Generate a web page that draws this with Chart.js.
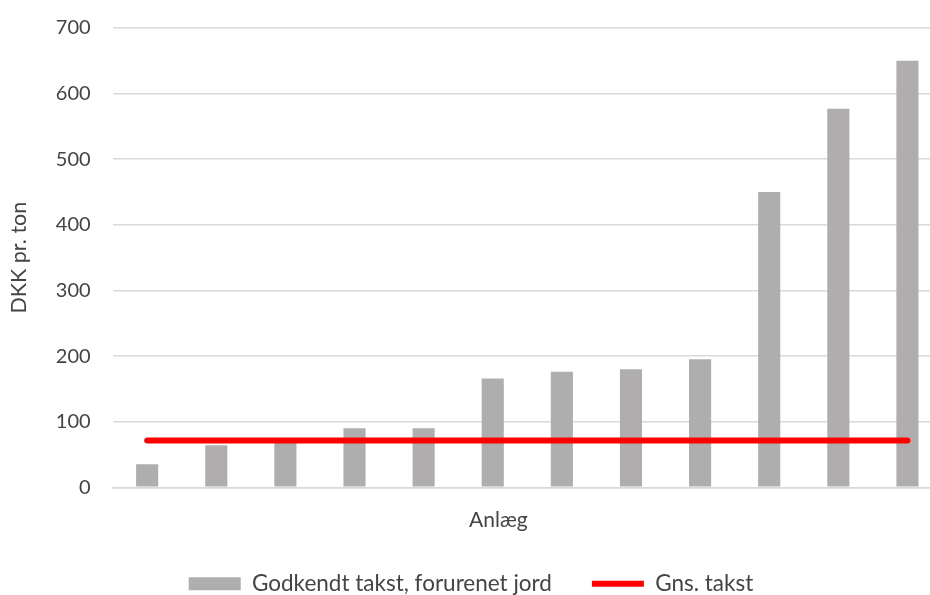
<!DOCTYPE html>
<html lang="da">
<head>
    <meta charset="UTF-8">
    <title>Godkendt takst, forurenet jord</title>
    <script src="https://cdn.jsdelivr.net/npm/chart.js"></script>
    <style>
        html, body {
            margin: 0;
            padding: 0;
            background: #ffffff;
            overflow: hidden;
        }
        /* a bit larger than the window, edges get cut off like in the original */
        .chart-box {
            width: 944px;
            height: 611px;
            margin-top: -6px;
        }
    </style>
</head>
<body>
    <div class="chart-box">
        <canvas id="taktChart"></canvas>
    </div>

    <script>
        // Anlæg (no names shown on the axis)
        const anlaeg = ['1', '2', '3', '4', '5', '6', '7', '8', '9', '10', '11', '12'];
        const godkendtTakst = [35, 64, 73, 90, 90, 166, 176, 180, 195, 450, 577, 650];
        const gnsTakst = [71.5, 71.5, 71.5, 71.5, 71.5, 71.5, 71.5, 71.5, 71.5, 71.5, 71.5, 71.5];
        const yTicks = [0, 100, 200, 300, 400, 500, 600, 700];

        const fontFam = 'Lato, "Open Sans", sans-serif';
        const textGrey = '#444444';

        const ctx = document.getElementById('taktChart').getContext('2d');
        const taktChart = new Chart(ctx, {
            data: {
                labels: anlaeg,
                datasets: [{
                    type: 'line',
                    label: 'Gns. takst',
                    data: gnsTakst,
                    borderColor: '#ff0000',
                    backgroundColor: '#ff0000',
                    borderWidth: 6,
                    borderCapStyle: 'round',
                    pointRadius: 0,
                    pointStyle: 'line'
                }, {
                    type: 'bar',
                    label: 'Godkendt takst, forurenet jord',
                    data: godkendtTakst,
                    backgroundColor: '#afadad',
                    borderWidth: 0,
                    barPercentage: 0.64,
                    categoryPercentage: 0.5,
                    pointStyle: 'rect'
                }]
            },
            options: {
                responsive: true,
                maintainAspectRatio: false,
                animation: false,
                layout: {
                    padding: { top: 4, right: 2, left: 0, bottom: 0 }
                },
                plugins: {
                    tooltip: { enabled: false },
                    legend: {
                        position: 'bottom',
                        reverse: true,
                        labels: {
                            usePointStyle: true,
                            pointStyleWidth: 52,
                            boxHeight: 13,
                            padding: 40,
                            color: textGrey,
                            font: { family: fontFam, size: 22.5 }
                        }
                    }
                },
                scales: {
                    x: {
                        grid: { display: false },
                        border: { color: '#d9d9d9', width: 1.5 },
                        ticks: { display: false },
                        title: {
                            display: true,
                            // trailing spaces push the title a little left, as in the original
                            text: 'Anlæg\u2003\u2003\u2003\u2002',
                            color: textGrey,
                            font: { family: fontFam, size: 21 },
                            padding: { top: 12, bottom: 0 }
                        }
                    },
                    y: {
                        min: 0,
                        max: 700,
                        afterBuildTicks: (axis) => {
                            axis.ticks = yTicks.map(v => ({ value: v }));
                        },
                        grid: {
                            color: '#d9d9d9',
                            lineWidth: 1.5,
                            drawTicks: false
                        },
                        border: { display: false },
                        ticks: {
                            padding: 22,
                            color: textGrey,
                            font: { family: fontFam, size: 20 }
                        },
                        title: {
                            display: true,
                            text: 'DKK pr. ton',
                            color: textGrey,
                            font: { family: fontFam, size: 21.5 },
                            padding: { top: 6, bottom: 2 }
                        }
                    }
                }
            }
        });
    </script>
</body>
</html>
